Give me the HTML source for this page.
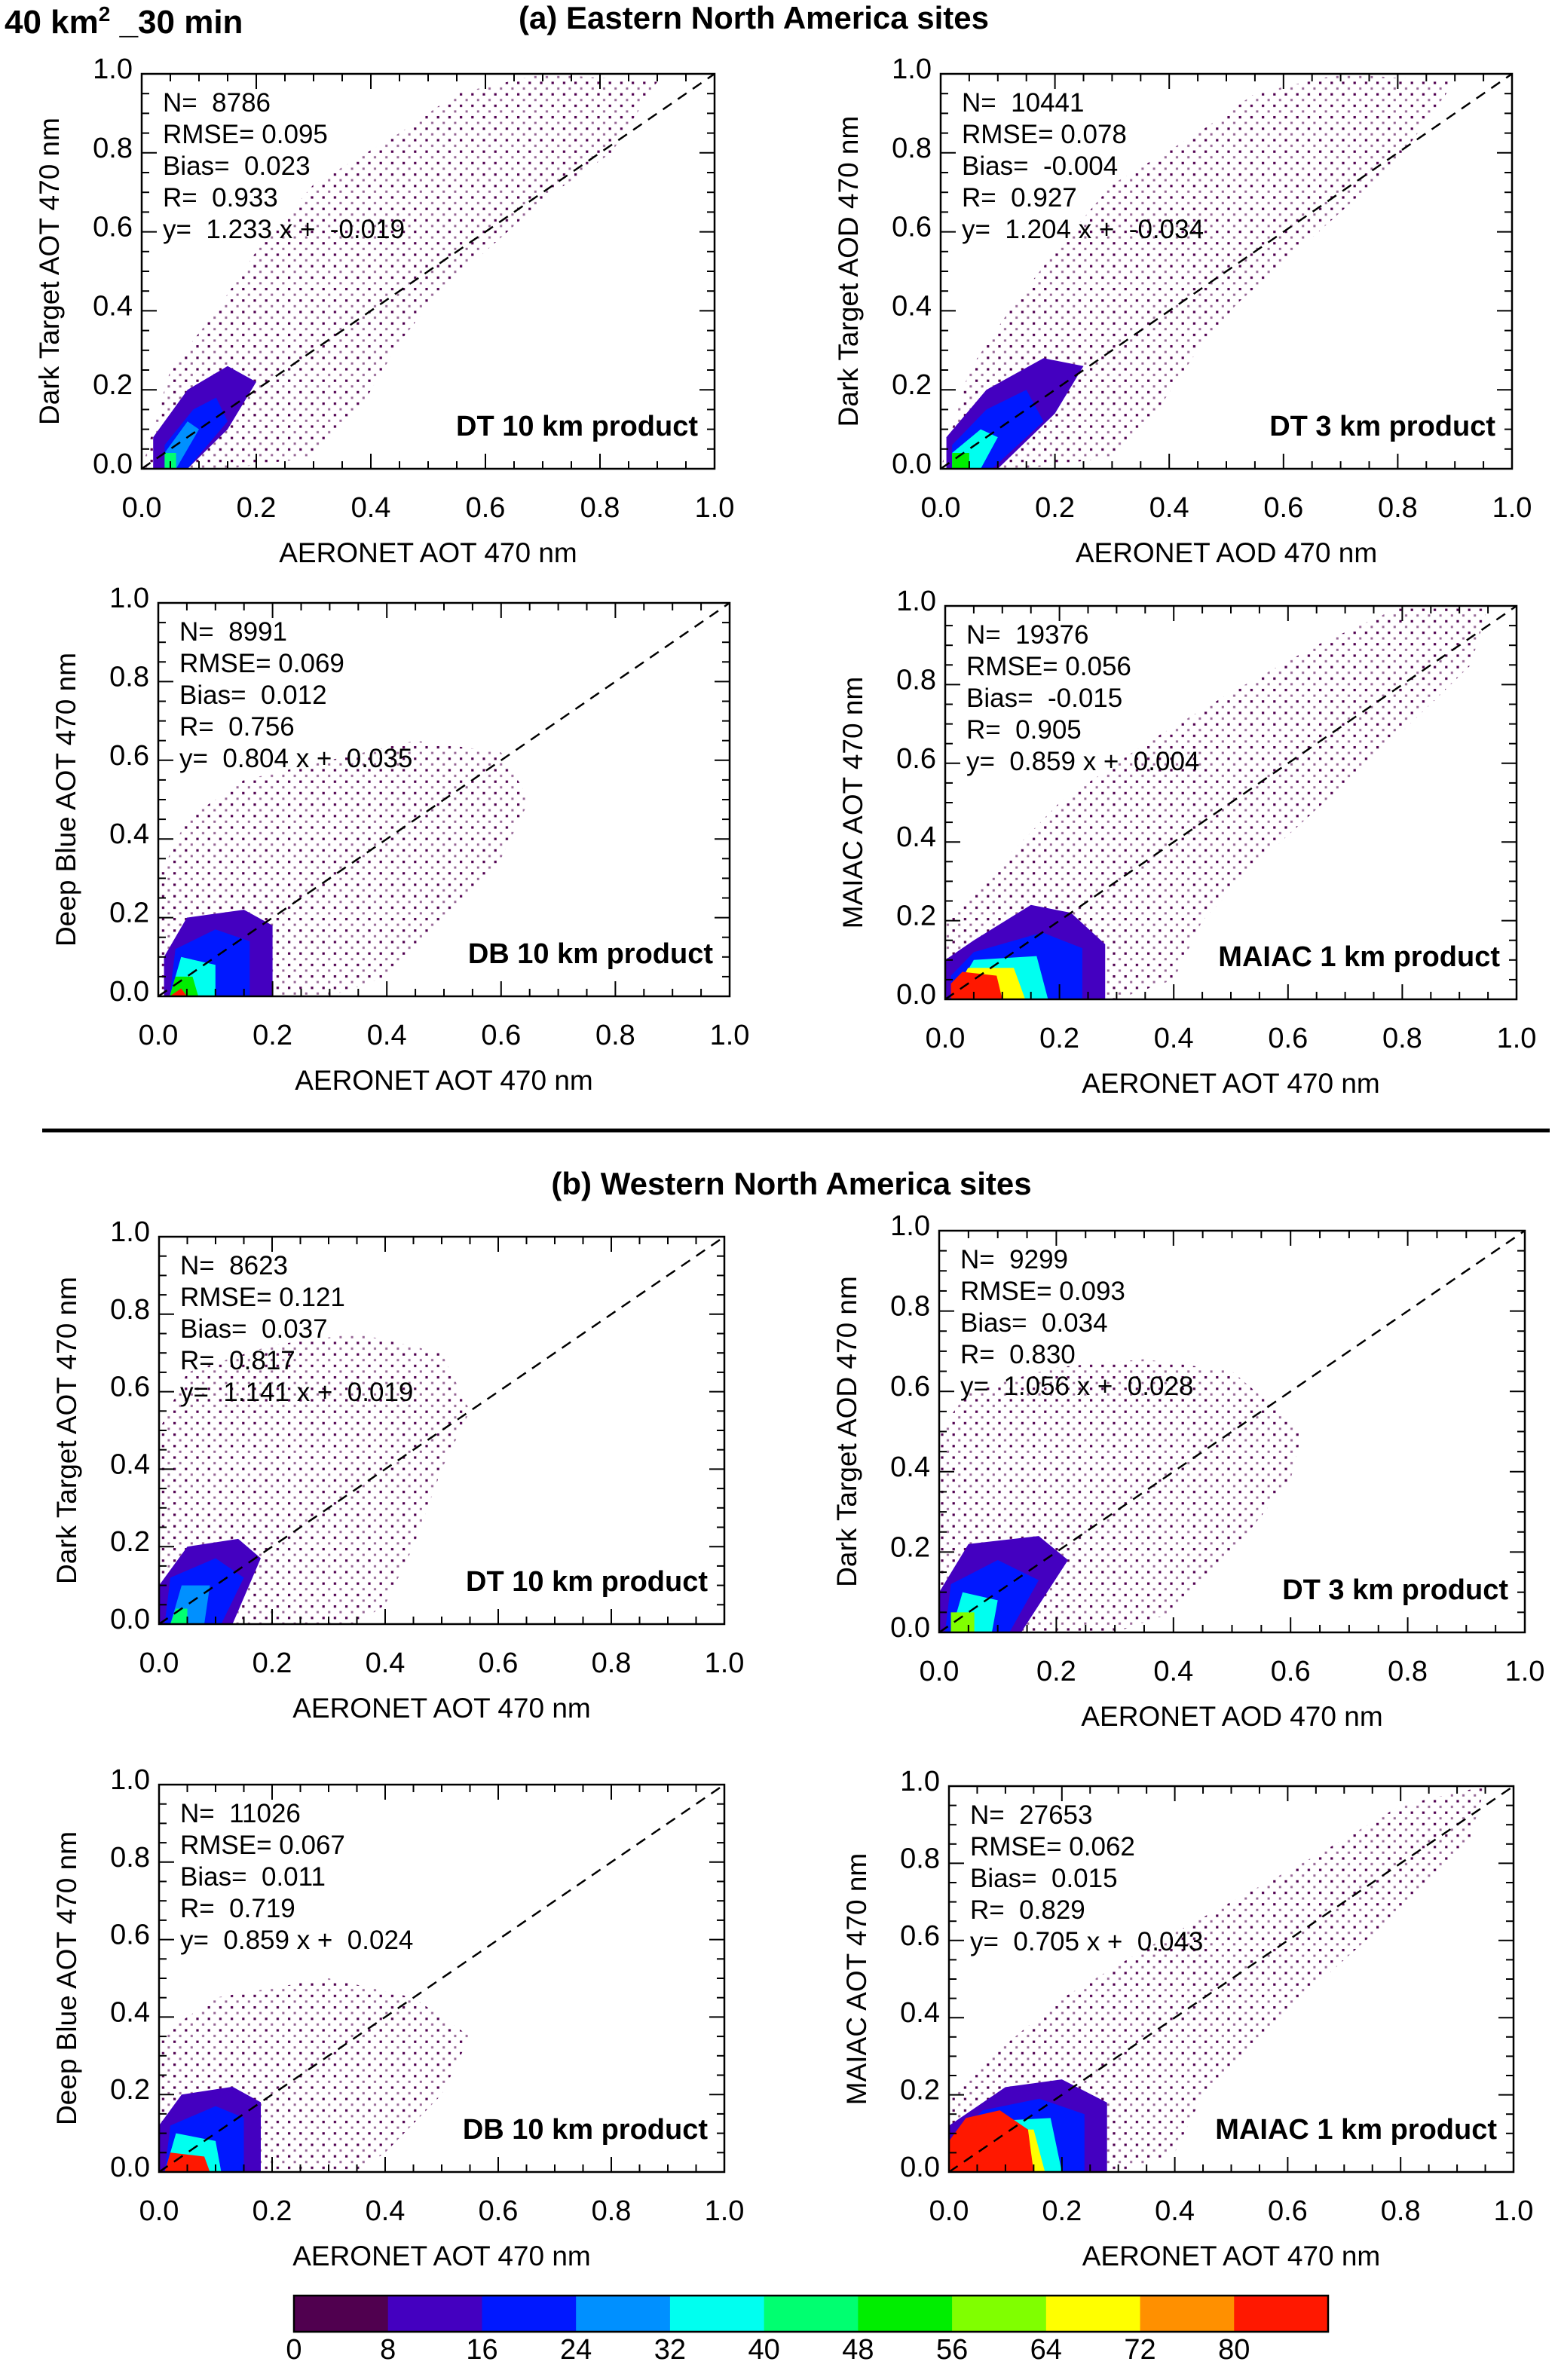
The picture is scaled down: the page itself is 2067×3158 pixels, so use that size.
<!DOCTYPE html>
<html><head><meta charset="utf-8">
<style>
html,body{margin:0;padding:0;background:#fff;}
body{width:2067px;height:3153px;overflow:hidden;font-family:"Liberation Sans",sans-serif;}
svg text{font-family:"Liberation Sans",sans-serif;}
</style></head>
<body>
<svg id="fig" width="2067" height="3153" viewBox="0 0 2067 3153" xmlns="http://www.w3.org/2000/svg">
<defs>
<pattern id="dots" width="15.2" height="15.2" patternUnits="userSpaceOnUse">
<rect x="2" y="2" width="3.2" height="3.2" fill="#50004f"/>
<rect x="9.6" y="9.6" width="3" height="3" fill="#50004f" opacity="0.6"/>
</pattern>
</defs>
<text x="6" y="44" font-size="44" font-weight="bold">40 km<tspan dy="-16" font-size="28">2</tspan><tspan dy="16"> _30 min</tspan></text>
<text x="1000" y="38" font-size="42" font-weight="bold" text-anchor="middle">(a) Eastern North America sites</text>
<line x1="56" y1="1500" x2="2056" y2="1500" stroke="#000" stroke-width="5"/>
<text x="1050" y="1585" font-size="42" font-weight="bold" text-anchor="middle">(b) Western North America sites</text>
<g id="panels"></g>
<g id="cbar"></g>
</svg>
<script>
const colors = ["#50004f","#4400c0","#0018ff","#0090ff","#00fff0","#00ff70","#00ee00","#80ff00","#ffff00","#ff9000","#ff1800"];
const cbTicks = [0,8,16,24,32,40,48,56,64,72,80];

// Panel boxes (pixel layout, not data)
const boxes = [
 [188,98,948,622],[1248,98,2006,622],
 [210,800,968,1322],[1254,804,2012,1326],
 [211,1641,961,2155],[1246,1633,2023,2166],
 [211,2368,961,2882],[1259,2370,2008,2882]
];
const xTitles = ["AERONET AOT 470 nm","AERONET AOD 470 nm","AERONET AOT 470 nm","AERONET AOT 470 nm","AERONET AOT 470 nm","AERONET AOD 470 nm","AERONET AOT 470 nm","AERONET AOT 470 nm"];
const yTitles = ["Dark Target AOT 470 nm","Dark Target AOD 470 nm","Deep Blue AOT 470 nm","MAIAC AOT 470 nm","Dark Target AOT 470 nm","Dark Target AOD 470 nm","Deep Blue AOT 470 nm","MAIAC AOT 470 nm"];
const products = ["DT 10 km product","DT 3 km product","DB 10 km product","MAIAC 1 km product","DT 10 km product","DT 3 km product","DB 10 km product","MAIAC 1 km product"];
const statN = ["8786","10441","8991","19376","8623","9299","11026","27653"];
const statRMSE = ["0.095","0.078","0.069","0.056","0.121","0.093","0.067","0.062"];
const statBias = ["0.023","-0.004","0.012","-0.015","0.037","0.034","0.011","0.015"];
const statR = ["0.933","0.927","0.756","0.905","0.817","0.830","0.719","0.829"];
const statSlope = ["1.233","1.204","0.804","0.859","1.141","1.056","0.859","0.705"];
const statIcpt = ["-0.019","-0.034","0.035","0.004","0.019","0.028","0.024","0.043"];
const xTicks = [0,0.2,0.4,0.6,0.8,1.0];

// sparse-scatter envelopes (data units)
const cloudX = [
 [0,0.02,0.05,0.13,0.2,0.3,0.45,0.55,0.7,0.9,0.82,0.7,0.6,0.52,0.45,0.38,0.3,0.15],
 [0,0.02,0.05,0.12,0.2,0.3,0.45,0.55,0.7,0.9,0.8,0.7,0.6,0.52,0.45,0.38,0.3,0.15],
 [0,0,0.05,0.15,0.3,0.45,0.6,0.65,0.6,0.5,0.4,0.3],
 [0,0,0.1,0.2,0.35,0.5,0.65,0.8,0.95,0.92,0.8,0.7,0.55,0.45,0.4,0.3],
 [0,0,0.05,0.2,0.35,0.5,0.55,0.5,0.45,0.4,0.35],
 [0,0,0.05,0.2,0.35,0.5,0.62,0.6,0.5,0.4,0.3],
 [0,0,0.1,0.3,0.45,0.55,0.5,0.4,0.35],
 [0,0,0.1,0.2,0.35,0.5,0.65,0.8,0.95,0.92,0.8,0.7,0.55,0.45,0.4,0.3]
];
const cloudY = [
 [0,0.1,0.25,0.4,0.55,0.72,0.85,0.95,1,0.98,0.8,0.68,0.55,0.45,0.32,0.15,0.03,0],
 [0,0.1,0.25,0.4,0.55,0.72,0.85,0.95,1,0.98,0.78,0.65,0.52,0.42,0.3,0.15,0.03,0],
 [0,0.3,0.45,0.55,0.6,0.65,0.62,0.5,0.35,0.2,0.05,0],
 [0,0.2,0.35,0.5,0.65,0.78,0.9,1,1,0.85,0.68,0.55,0.35,0.2,0.05,0],
 [0,0.5,0.65,0.72,0.75,0.7,0.55,0.4,0.2,0.05,0],
 [0,0.5,0.6,0.66,0.68,0.65,0.5,0.38,0.2,0.05,0],
 [0,0.35,0.45,0.5,0.45,0.35,0.2,0.05,0],
 [0,0.2,0.33,0.45,0.58,0.7,0.82,0.95,1,0.85,0.68,0.55,0.35,0.2,0.05,0]
];
// dense heat regions: level index, xs, ys (data units)
const heatLevels = [
 [1,2,3,5],[1,2,4,6],[1,2,4,6,10],[1,2,4,8,10],
 [1,2,3,5],[1,2,4,7],[1,2,4,10],[1,2,4,8,10]
];
const heatX = [
 [[0.02,0.08,0.15,0.2,0.15,0.08,0.02],[0.04,0.08,0.15,0.13,0.09,0.04],[0.04,0.06,0.1,0.08,0.04],[0.04,0.06,0.06,0.04]],
 [[0.01,0.1,0.2,0.25,0.18,0.08,0.01],[0.02,0.09,0.18,0.15,0.08,0.02],[0.02,0.07,0.1,0.07,0.02],[0.02,0.05,0.05,0.02]],
 [[0.01,0.2,0.2,0.15,0.05,0.01],[0.02,0.16,0.16,0.1,0.03],[0.02,0.1,0.1,0.04],[0.02,0.07,0.06,0.03],[0.02,0.05,0.04]],
 [[0,0.28,0.28,0.22,0.15,0.05,0],[0.01,0.24,0.24,0.17,0.05,0.01],[0.01,0.18,0.16,0.05],[0.01,0.14,0.12,0.04],[0.01,0.1,0.09,0.03,0.01]],
 [[0,0.13,0.18,0.14,0.05,0],[0.01,0.11,0.15,0.1,0.02],[0.02,0.08,0.09,0.04],[0.02,0.05,0.05,0.03]],
 [[0,0.14,0.22,0.17,0.05,0],[0.01,0.12,0.17,0.1,0.02],[0.02,0.09,0.1,0.04],[0.02,0.06,0.06,0.02]],
 [[0,0.18,0.18,0.13,0.04,0],[0.01,0.15,0.15,0.1,0.02],[0.01,0.11,0.1,0.03],[0.01,0.09,0.08,0.02]],
 [[0,0.28,0.28,0.2,0.1,0],[0,0.24,0.24,0.16,0.06,0],[0,0.2,0.18,0.05],[0,0.17,0.15,0.04],[0,0.15,0.14,0.09,0.03,0]]
];
const heatY = [
 [[0,0,0.1,0.22,0.26,0.2,0.08],[0,0,0.12,0.18,0.15,0.06],[0,0,0.1,0.12,0.04],[0,0,0.04,0.04]],
 [[0,0,0.14,0.26,0.28,0.2,0.08],[0,0,0.12,0.2,0.15,0.06],[0,0,0.08,0.1,0.04],[0,0,0.04,0.04]],
 [[0,0,0.18,0.22,0.2,0.1],[0,0,0.14,0.17,0.12],[0,0,0.08,0.1],[0,0,0.05,0.05],[0,0,0.02]],
 [[0,0,0.14,0.22,0.24,0.15,0.1],[0,0,0.13,0.17,0.12,0.06],[0,0,0.11,0.1],[0,0,0.08,0.08],[0,0,0.06,0.07,0.04]],
 [[0,0,0.17,0.22,0.2,0.1],[0,0,0.12,0.17,0.12],[0,0,0.1,0.1],[0,0,0.04,0.04]],
 [[0,0,0.18,0.24,0.22,0.1],[0,0,0.13,0.18,0.12],[0,0,0.08,0.1],[0,0,0.05,0.05]],
 [[0,0,0.18,0.22,0.2,0.12],[0,0,0.14,0.17,0.12],[0,0,0.08,0.1],[0,0,0.04,0.05]],
 [[0,0,0.18,0.24,0.22,0.12],[0,0,0.15,0.19,0.16,0.08],[0,0,0.14,0.13],[0,0,0.11,0.11],[0,0,0.11,0.16,0.14,0.08]]
];

const NS="http://www.w3.org/2000/svg";
function mk(tag, attrs, parent){const e=document.createElementNS(NS,tag);for(const k in attrs)e.setAttribute(k,attrs[k]);parent.appendChild(e);return e;}
const root=document.getElementById('panels');

boxes.forEach((b,i)=>{
  const [L,T,R,B]=b;
  const sx=v=>L+v*(R-L), sy=v=>B-v*(B-T);
  const g=mk('g',{},root);
  
  
  const cp=mk('polygon',{points:cloudX[i].map((x,k)=>sx(x)+','+sy(cloudY[i][k])).join(' '),fill:'url(#dots)'},g);
  
  
  heatLevels[i].forEach((lv,j)=>{
    const p=mk('polygon',{points:heatX[i][j].map((x,k)=>sx(x)+','+sy(heatY[i][j][k])).join(' '),fill:colors[lv]},g);
    
    
  });
  const dl=mk('line',{x1:sx(0),y1:sy(0),x2:sx(1),y2:sy(1),stroke:'#000','stroke-width':2.5,'stroke-dasharray':'14,10'},g);
  
  
  const fr=mk('rect',{x:L,y:T,width:R-L,height:B-T,fill:'none',stroke:'#000','stroke-width':2.5},g);
  
  
  for(let k=1;k<20;k++){
    const v=k*0.05, major=(k%4===0), len=major?20:10;
    mk('line',{x1:sx(v),y1:B,x2:sx(v),y2:B-len,stroke:'#000','stroke-width':2},g);
    mk('line',{x1:sx(v),y1:T,x2:sx(v),y2:T+len,stroke:'#000','stroke-width':2},g);
    mk('line',{x1:L,y1:sy(v),x2:L+len,y2:sy(v),stroke:'#000','stroke-width':2},g);
    mk('line',{x1:R,y1:sy(v),x2:R-len,y2:sy(v),stroke:'#000','stroke-width':2},g);
  }
  xTicks.forEach(v=>{
    const t=mk('text',{x:sx(v),y:B+64,'font-size':38,'text-anchor':'middle'},g);t.textContent=v.toFixed(1);
    
    
    const u=mk('text',{x:L-12,y:sy(v)+6,'font-size':38,'text-anchor':'end'},g);u.textContent=v.toFixed(1);
    
    
  });
  const xt=mk('text',{x:(L+R)/2,y:B+124,'font-size':37,'text-anchor':'middle'},g);xt.textContent=xTitles[i];
  
  
  const yx=L-110, yy=(T+B)/2;
  const yt=mk('text',{x:yx,y:yy,'font-size':37,'text-anchor':'middle',transform:`rotate(-90 ${yx} ${yy})`},g);yt.textContent=yTitles[i];
  
  
  const lines=['N=  '+statN[i],'RMSE= '+statRMSE[i],'Bias=  '+statBias[i],'R=  '+statR[i],'y=  '+statSlope[i]+' x +  '+statIcpt[i]];
  lines.forEach((s,k)=>{
    const t=mk('text',{x:L+28,y:T+50+k*42,'font-size':35},g);
    t.setAttribute('style','white-space:pre');
    t.textContent=s;
    
    
  });
  const pl=mk('text',{x:R-22,y:B-44,'font-size':38,'font-weight':'bold','text-anchor':'end'},g);pl.textContent=products[i];
  
  
});

const cb=document.getElementById('cbar');
const cbL=390, cbR=1762, cbT=3046, cbB=3094, w=(cbR-cbL)/colors.length;
colors.forEach((c,k)=>{
  const r=mk('rect',{x:cbL+k*w,y:cbT,width:w+0.5,height:cbB-cbT,fill:c},cb);
  
  
});
mk('rect',{x:cbL,y:cbT,width:cbR-cbL,height:cbB-cbT,fill:'none',stroke:'#000','stroke-width':2.5},cb);
cbTicks.forEach((v,k)=>{
  const t=mk('text',{x:cbL+k*w,y:3130,'font-size':38,'text-anchor':'middle'},cb);t.textContent=v;
  
  
});
</script>
</body></html>
